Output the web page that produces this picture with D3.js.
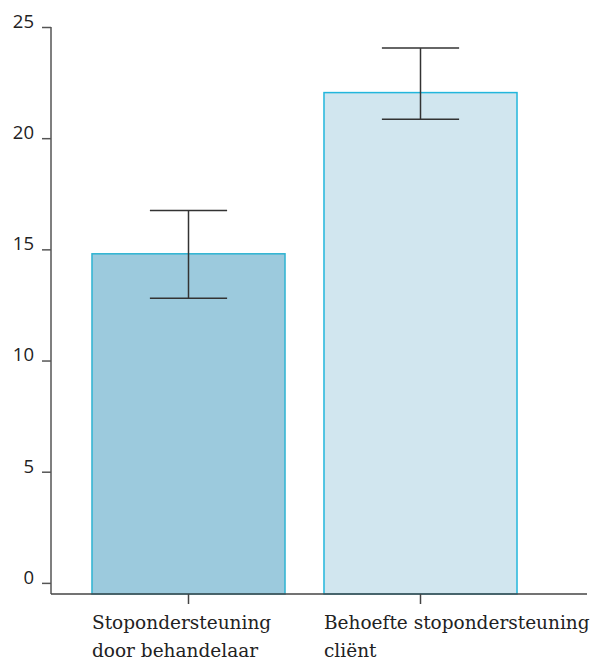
<!DOCTYPE html>
<html>
<head>
<meta charset="utf-8">
<script src="https://cdn.jsdelivr.net/npm/d3@7"></script>
<style>
  body { margin: 0; background: #fff; }
</style>
</head>
<body>
<div id="chart"></div>
<script>
// data
const categories = ["Stopondersteuning door behandelaar", "Behoefte stopondersteuning cliënt"];
const labelLines = [["Stopondersteuning", "door behandelaar"], ["Behoefte stopondersteuning", "cliënt"]];
const means = [14.8, 22.05];
const errLow = [12.8, 20.85];
const errHigh = [16.75, 24.05];
const yTicks = [0, 5, 10, 15, 20, 25];

const fills = ["#9ccadd", "#d1e6ef"];
const strokes = ["#2db3d2", "#22b6dc"];

const W = 602, H = 660;

const svg = d3.select("#chart")
    .append("svg")
    .attr("width", W)
    .attr("height", H);

// scales
const yScale = d3.scaleLinear()
    .domain([-0.5, 25])
    .range([594, 27]);

const xScale = d3.scaleBand()
    .domain(categories)
    .range([72.5, 536.5])
    .paddingInner(0.168)
    .paddingOuter(0.084);

const axisLeftX = 51, axisRightX = 587;

// bars
svg.selectAll(".bar")
    .data(categories)
    .enter()
    .append("rect")
    .attr("class", "bar")
    .attr("x", d => xScale(d))
    .attr("y", (d, i) => yScale(means[i]))
    .attr("width", xScale.bandwidth())
    .attr("height", (d, i) => yScale(-0.5) - yScale(means[i]))
    .attr("fill", (d, i) => fills[i])
    .attr("stroke", (d, i) => strokes[i])
    .attr("stroke-width", 1.5);

// error bars
const capW = xScale.bandwidth() * 0.4;
const err = svg.selectAll(".err")
    .data(categories)
    .enter()
    .append("g")
    .attr("class", "err")
    .attr("stroke", "#333")
    .attr("stroke-width", 1.5);

err.append("line")
    .attr("x1", d => xScale(d) + xScale.bandwidth() / 2)
    .attr("x2", d => xScale(d) + xScale.bandwidth() / 2)
    .attr("y1", (d, i) => yScale(errLow[i]))
    .attr("y2", (d, i) => yScale(errHigh[i]));

err.append("line")
    .attr("x1", d => xScale(d) + xScale.bandwidth() / 2 - capW / 2)
    .attr("x2", d => xScale(d) + xScale.bandwidth() / 2 + capW / 2)
    .attr("y1", (d, i) => yScale(errHigh[i]))
    .attr("y2", (d, i) => yScale(errHigh[i]));

err.append("line")
    .attr("x1", d => xScale(d) + xScale.bandwidth() / 2 - capW / 2)
    .attr("x2", d => xScale(d) + xScale.bandwidth() / 2 + capW / 2)
    .attr("y1", (d, i) => yScale(errLow[i]))
    .attr("y2", (d, i) => yScale(errLow[i]));

// y axis
const yAxis = svg.append("g")
    .attr("transform", `translate(${axisLeftX},0)`)
    .call(d3.axisLeft(yScale).tickValues(yTicks).tickSize(9).tickPadding(8).tickSizeOuter(0));

yAxis.select(".domain").remove();
yAxis.append("line")
    .attr("x1", 0).attr("x2", 0)
    .attr("y1", yScale(25)).attr("y2", yScale(-0.5))
    .attr("stroke", "#555").attr("stroke-width", 1.5);
yAxis.selectAll(".tick line").attr("stroke", "#555").attr("stroke-width", 1.5);
yAxis.selectAll(".tick text")
    .attr("fill", "#222")
    .attr("dy", "0.02em")
    .style("font-family", "'Open Sans', sans-serif")
    .style("font-size", "18.5px");

// x axis
const xAxis = svg.append("g")
    .attr("transform", `translate(0,${yScale(-0.5)})`)
    .call(d3.axisBottom(xScale).tickSize(10).tickFormat(""));

xAxis.select(".domain").remove();
xAxis.append("line")
    .attr("x1", axisLeftX).attr("x2", axisRightX)
    .attr("y1", 0).attr("y2", 0)
    .attr("stroke", "#444").attr("stroke-width", 1.5);
xAxis.selectAll(".tick line").attr("stroke", "#444").attr("stroke-width", 1.5);

// category labels, left aligned at the bar start
const labels = svg.selectAll(".cat-label")
    .data(categories)
    .enter()
    .append("text")
    .attr("class", "cat-label")
    .attr("x", d => xScale(d))
    .attr("y", yScale(-0.5) + 35)
    .attr("fill", "#222")
    .style("font-family", "'DejaVu Serif', serif")
    .style("font-size", "18.5px");

labels.selectAll("tspan")
    .data((d, i) => labelLines[i])
    .enter()
    .append("tspan")
    .attr("x", function () { return d3.select(this.parentNode).attr("x"); })
    .attr("dy", (d, j) => j === 0 ? 0 : 28)
    .text(d => d);
</script>
</body>
</html>
